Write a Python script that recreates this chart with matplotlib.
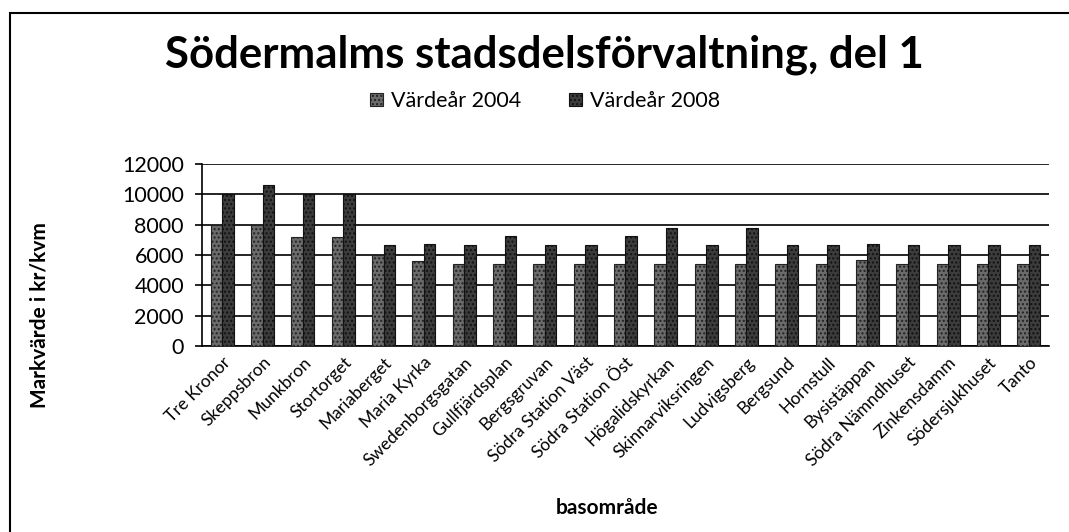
import matplotlib
matplotlib.use("Agg")
import matplotlib.pyplot as plt
import numpy as np
from matplotlib.patches import Rectangle

areas = ["Tre Kronor", "Skeppsbron", "Munkbron", "Stortorget", "Mariaberget",
         "Maria Kyrka", "Swedenborgsgatan", "Gullfjärdsplan", "Bergsgruvan",
         "Södra Station Väst", "Södra Station Öst", "Högalidskyrkan",
         "Skinnarviksringen", "Ludvigsberg", "Bergsund", "Hornstull",
         "Bysistäppan", "Södra Nämndhuset", "Zinkensdamm", "Södersjukhuset",
         "Tanto"]
v2004 = [8000, 8000, 7200, 7200, 6000, 5600, 5400, 5400, 5400, 5400, 5400,
         5400, 5400, 5400, 5400, 5400, 5650, 5400, 5400, 5400, 5400]
v2008 = [10000, 10600, 10000, 10000, 6650, 6750, 6650, 7250, 6650, 6650, 7250,
         7800, 6650, 7800, 6650, 6650, 6750, 6650, 6650, 6650, 6650]
yticks = [0, 2000, 4000, 6000, 8000, 10000, 12000]

plt.rcParams['font.family'] = ['Lato', 'DejaVu Sans']
plt.rcParams['hatch.color'] = '#aaaaaa'

W, H = 1069, 532
fig = plt.figure(figsize=(W / 100, H / 100), dpi=100)
ax = fig.add_axes([202 / W, 1 - 346 / H, (1049 - 202) / W, (346 - 164) / H])

# outer chart border (cropped at right and bottom in the scan)
fig.patches.append(Rectangle((10 / W, -0.1), 1.2, 1 - 13 / H + 0.1,
                             transform=fig.transFigure, fill=False,
                             edgecolor='black', linewidth=1.5))

x = np.arange(len(areas))
w = 0.285
ax.bar(x - w / 2, v2004, w, color='#6b6b6b', edgecolor='#222222',
       linewidth=0.8, hatch='....', label='Värdeår 2004', zorder=3)
ax.bar(x + w / 2, v2008, w, color='#3c3c3c', edgecolor='#111111',
       linewidth=0.8, hatch='....', label='Värdeår 2008', zorder=3)

ax.set_xlim(-0.5, len(areas) - 0.5)
ax.set_ylim(0, 12000)
ax.set_yticks(yticks)
ax.set_yticklabels([str(t) for t in yticks], fontsize=15.5)
ax.yaxis.grid(True, color='black', linewidth=1.2, zorder=0)
ax.set_xticks(x)
ax.set_xticklabels(areas, rotation=45, ha='right', rotation_mode='anchor',
                   fontsize=12.5)
ax.tick_params(axis='x', length=0, pad=6)
ax.tick_params(axis='y', direction='out', length=5, width=1.2, pad=8)
for s in ('top', 'right'):
    ax.spines[s].set_visible(False)
ax.spines['left'].set_linewidth(1.2)
ax.spines['bottom'].set_linewidth(1.2)

ax.set_ylabel('Markvärde i kr/kvm', fontsize=15, fontweight='bold')
ax.yaxis.set_label_coords(-(202 - 50) / (1049 - 202), (346 - 315) / (346 - 164))
ax.set_xlabel('basområde', fontsize=15, fontweight='bold')
ax.xaxis.set_label_coords((607 - 202) / (1049 - 202), -(498 - 346) / (346 - 164))

fig.text(544 / W, 1 - 55 / H, 'Södermalms stadsdelsförvaltning, del 1',
         ha='center', va='center', fontsize=31.5, fontweight='bold')

fig.legend(loc='center', bbox_to_anchor=(545 / W, 1 - 101 / H), ncol=2,
           frameon=False, fontsize=15.5, handlelength=0.6, handleheight=0.6,
           columnspacing=2.2, handletextpad=0.4)

fig.savefig('out.png', dpi=100)
